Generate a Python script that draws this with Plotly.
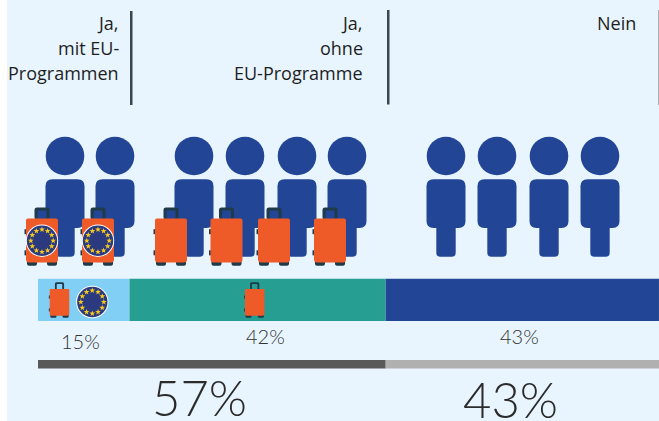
import math
import plotly.graph_objects as go

W, H = 659, 421
# ---- data ----
categories = ["Ja, mit EU-Programmen", "Ja, ohne EU-Programme", "Nein"]
# bar lengths as measured; the "Nein" segment runs on to the image edge, past its labelled 43
shares = [15, 42, 44.8]
share_colors = ["#82CFF5", "#269E92", "#224695"]
share_labels = ["15%", "42%", "43%"]
totals = [57, 44.8]
total_colors = ["#595959", "#B0B0B0"]
total_labels = ["57%", "43%"]
header_lines = [
    ("Ja,", 121, 23), ("mit EU-", 121, 48), ("Programmen", 121, 73),
    ("Ja,", 365, 23), ("ohne", 365, 48), ("EU-Programme", 365, 73),
    ("Nein", 638, 23),
]
people_x = [65, 115, 194, 245, 297, 347, 446, 497, 549, 600]
eu_cases_x = [42, 98]
plain_cases_x = [171, 226.5, 274, 330]

NAVY = "#224695"
ORANGE = "#EF5A29"
DARK = "#1F3A48"
EU_BLUE = "#2B3A7E"
STAR = "#F7C91E"
BG = "#E8F5FE"


def px(x):
    return x / W


def py(y):
    return 1 - y / H


def path(points):
    """points: list of (cmd, x, y, ...) in pixels -> paper path string"""
    out = []
    for p in points:
        cmd, rest = p[0], p[1:]
        vals = []
        for i, v in enumerate(rest):
            vals.append(f"{px(v) if i % 2 == 0 else py(v):.5f}")
        out.append(cmd + " " + " ".join(vals))
    return " ".join(out)


def rrect(x0, y0, x1, y1, r, rb=None):
    rb = r if rb is None else rb
    return [("M", x0 + r, y0), ("L", x1 - r, y0), ("Q", x1, y0, x1, y0 + r),
            ("L", x1, y1 - rb), ("Q", x1, y1, x1 - rb, y1), ("L", x0 + rb, y1),
            ("Q", x0, y1, x0, y1 - rb), ("L", x0, y0 + r), ("Q", x0, y0, x0 + r, y0), ("Z",)]


shapes = []


def add_path(pts, fill, line=None, lw=0):
    shapes.append(dict(type="path", xref="paper", yref="paper", path=path(pts), fillcolor=fill,
                       line=dict(width=lw, color=line or fill), layer="above"))


def add_circle(cx, cy, r, fill):
    shapes.append(dict(type="circle", xref="paper", yref="paper", x0=px(cx - r), x1=px(cx + r),
                       y0=py(cy + r), y1=py(cy - r), fillcolor=fill, line=dict(width=0), layer="above"))


def add_rect(x0, y0, x1, y1, fill, layer="above"):
    shapes.append(dict(type="rect", xref="paper", yref="paper", x0=px(x0), x1=px(x1),
                       y0=py(y1), y1=py(y0), fillcolor=fill, line=dict(width=0), layer=layer))


def person(cx):
    add_circle(cx, 156, 19.3, NAVY)
    add_path(rrect(cx - 19.5, 179.3, cx + 19.5, 228, 7, 7), NAVY)
    add_path(rrect(cx - 9.7, 215, cx + 9.7, 256.7, 0, 4), NAVY)


def suitcase(cx, top, hole, s=1.0):
    """top = y of the body's top edge; s = scale, s=1 -> 32 px wide."""
    w = 16 * s
    body_h = 44 * s
    # handle
    add_path(rrect(cx - 7.5 * s, top - 11 * s, cx + 7.5 * s, top + 1, 2.5 * s), DARK)
    add_path(rrect(cx - 4.5 * s, top - 8 * s, cx + 4.5 * s, top + 1, 1 * s), hole)
    # side bumps
    for yy in (0.3, 0.78):
        add_rect(cx - w - 1.5 * s, top + body_h * yy - 2.5 * s, cx - w + 1, top + body_h * yy + 2.5 * s, DARK)
    # wheels
    for sx in (-1, 1):
        add_path(rrect(cx + sx * 10 * s - 5 * s, top + body_h - 2 * s, cx + sx * 10 * s + 5 * s,
                       top + body_h + 3.2 * s, 0.5, 2 * s), DARK)
    add_path(rrect(cx - w, top, cx + w, top + body_h, 2 * s, 3 * s), ORANGE)


def star(cx, cy, r):
    pts = []
    for i in range(10):
        a = -math.pi / 2 + i * math.pi / 5
        rr = r if i % 2 == 0 else r * 0.42
        pts.append(("M" if i == 0 else "L", cx + rr * math.cos(a), cy + rr * math.sin(a)))
    pts.append(("Z",))
    add_path(pts, STAR)


def eu_badge(cx, cy, r, ring):
    add_circle(cx, cy, r + 1.0, "#FFFFFF")
    add_circle(cx, cy, r, EU_BLUE)
    for i in range(12):
        a = i * math.pi / 6
        star(cx + ring * math.cos(a), cy + ring * math.sin(a), 3.0)


# background panel
add_rect(7, 0, W, H, BG, layer="below")

# header separators
add_rect(130, 11, 132.5, 105, "#3A474E")
add_rect(387, 10, 389.5, 104.5, "#3A474E")
add_rect(658, 10, 659, 105, "#A9AFB3")

# people and suitcases
for x in people_x:
    person(x)
for x in eu_cases_x:
    suitcase(x, 218.5, NAVY)
    eu_badge(x, 240.7, 15.2, 11.2)
for x in plain_cases_x:
    suitcase(x, 218.5, NAVY)

# icons inside the bar
suitcase(59.5, 289, share_colors[0], 0.61)
eu_badge(92.3, 302, 15.2, 11.5)
suitcase(254.7, 289, share_colors[1], 0.61)

# ---- figure ----
fig = go.Figure()
base = 0
for name, v, c in zip(categories, shares, share_colors):
    fig.add_trace(go.Bar(x=[v], y=[299.9], base=[base], width=[42.4], orientation="h", name=name,
                         marker=dict(color=c, line=dict(width=0)), hoverinfo="skip"))
    base += v
base = 0
for v, c in zip(totals, total_colors):
    fig.add_trace(go.Bar(x=[v], y=[364.2], base=[base], width=[8.6], orientation="h",
                         marker=dict(color=c, line=dict(width=0)), hoverinfo="skip"))
    base += v

FONT = "Open Sans, sans-serif"
annotations = []
for text, x, y in header_lines:
    annotations.append(dict(text=text, x=px(x), y=py(y), xref="paper", yref="paper", xanchor="right",
                            yanchor="middle", showarrow=False, font=dict(family=FONT, size=18, color="#1E1E1E")))
for text, x, y in zip(share_labels, [80, 265, 519], [341, 336, 336]):
    annotations.append(dict(text=text, x=px(x), y=py(y), xref="paper", yref="paper", xanchor="center",
                            yanchor="middle", showarrow=False,
                            font=dict(family="Lato, sans-serif", size=20, color="#333333", weight=300)))
for text, x, y in zip(total_labels, [199, 510], [397, 399]):
    annotations.append(dict(text=text, x=px(x), y=py(y), xref="paper", yref="paper", xanchor="center",
                            yanchor="middle", showarrow=False,
                            font=dict(family="Lato, sans-serif", size=49, color="#2B2B2B", weight=300)))

fig.update_layout(
    width=W, height=H, margin=dict(l=0, r=0, t=0, b=0), autosize=False,
    paper_bgcolor="#FFFFFF", plot_bgcolor="rgba(0,0,0,0)", showlegend=False,
    barmode="overlay",
    xaxis=dict(range=[-38 / 6.1, (W - 38) / 6.1], visible=False, fixedrange=True),
    yaxis=dict(range=[H, 0], visible=False, fixedrange=True),
    shapes=shapes, annotations=annotations,
)
fig.write_html("out.html", config=dict(displayModeBar=False),
               post_script="document.body.style.margin='0';document.body.style.overflow='hidden';")
